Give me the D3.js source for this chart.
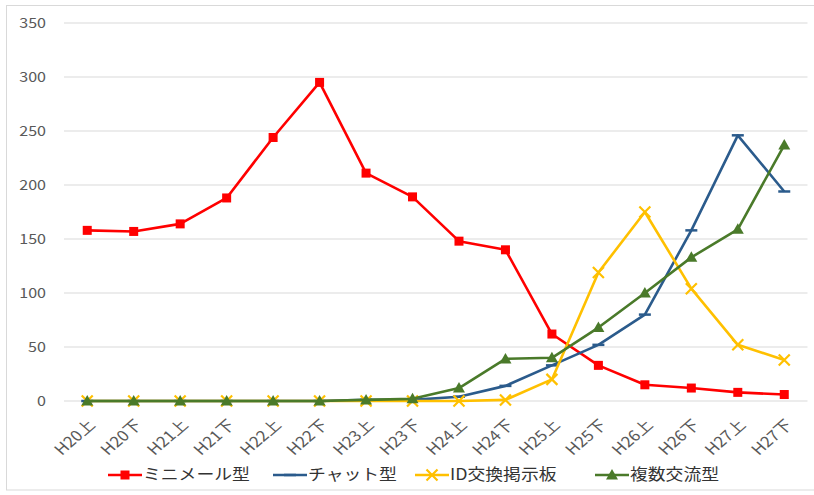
<!DOCTYPE html>
<html><head><meta charset="utf-8">
<script src="https://cdn.jsdelivr.net/npm/d3@7"></script>
<style>
body{margin:0;background:#fff;}
text{font-family:"Noto Sans CJK JP","Noto Sans",sans-serif;}
</style></head>
<body><svg id="c" width="814" height="495"></svg>
<script>
const categories = ["H20上","H20下","H21上","H21下","H22上","H22下","H23上","H23下","H24上","H24下","H25上","H25下","H26上","H26下","H27上","H27下"];
const seriesNames = ["ミニメール型","チャット型","ID交換掲示板","複数交流型"];
const miniMail = [158,157,164,188,244,295,211,189,148,140,62,33,15,12,8,6];
const chat = [0,0,0,0,0,0,1,1,4,14,33,52,80,158,246,194];
const idBoard = [0,0,0,0,0,0,0,0,0,1,20,119,175,104,52,38];
const multi = [0,0,0,0,0,0,1,2,12,39,40,68,100,133,159,237];
const yTicks = [0,50,100,150,200,250,300,350];
const colors = ["#FF0000","#2B5B8C","#FFC000","#4A7A2A"];

const sx = 1.15; // horizontal stretch of the original picture
const svg = d3.select("#c");
svg.append("rect").attr("x",6.5).attr("y",5.5).attr("width",820).attr("height",484.5)
  .attr("fill","none").attr("stroke","#d9d9d9");

const x = d3.scaleBand().domain(categories).range([64,807.5]);
const y = d3.scaleLinear().domain([0,350]).range([401,23]);
const cx = d => x(d) + x.bandwidth()/2;

// gridlines
svg.append("g").selectAll("line").data(yTicks).join("line")
  .attr("x1",64).attr("x2",807.5).attr("y1",d=>y(d)).attr("y2",d=>y(d))
  .attr("stroke","#d9d9d9").attr("stroke-width",1.2);

// y axis
const ya = svg.append("g").attr("transform","translate(46,0)")
  .call(d3.axisLeft(y).tickValues(yTicks).tickSize(0).tickPadding(0));
ya.select(".domain").remove();
ya.selectAll(".tick text").attr("font-size",14).attr("fill","#595959")
  .attr("font-family","'Noto Sans','Open Sans',sans-serif")
  .attr("transform",`scale(${sx},1)`);

// x axis labels
const xa = svg.append("g").attr("transform","translate(0,0)")
  .call(d3.axisBottom(x).tickSize(0).tickPadding(0));
xa.select(".domain").remove();
xa.selectAll(".tick").attr("transform",null);
xa.selectAll(".tick text").attr("font-size",15).attr("fill","#595959")
  .attr("text-anchor","end").attr("dy",0).attr("y",0)
  .attr("transform",d=>`translate(${cx(d)+9},426) scale(${sx},1) rotate(-45)`);

const data = [miniMail, chat, idBoard, multi];
const line = d3.line().x((d,i)=>cx(categories[i])).y(d=>y(d));

function marker(g, type, color){
  if(type===0) g.append("rect").attr("x",-4.5).attr("y",-4.5).attr("width",9).attr("height",9).attr("fill",color);
  else if(type===1) g.append("line").attr("x1",-6).attr("x2",6).attr("stroke",color).attr("stroke-width",2.5);
  else if(type===2) g.append("path").attr("d","M-5.5,-5.5L5.5,5.5M-5.5,5.5L5.5,-5.5").attr("stroke",color).attr("stroke-width",2.2).attr("fill","none");
  else g.append("path").attr("d","M0,-6L6,4.5L-6,4.5Z").attr("fill",color);
}

data.forEach((vals,si)=>{
  svg.append("path").datum(vals).attr("d",line).attr("fill","none")
    .attr("stroke",colors[si]).attr("stroke-width",2.6).attr("stroke-linejoin","round");
  vals.forEach((v,i)=>{
    const g = svg.append("g").attr("transform",`translate(${cx(categories[i])},${y(v)})`);
    marker(g, si, colors[si]);
  });
});

// legend
const legX = [108,273,415,595];
seriesNames.forEach((n,si)=>{
  const g = svg.append("g").attr("transform",`translate(${legX[si]},475)`);
  g.append("line").attr("x1",0).attr("x2",34).attr("stroke",colors[si]).attr("stroke-width",2.6);
  const m = g.append("g").attr("transform","translate(17,0)");
  marker(m, si, colors[si]);
  g.append("text").attr("transform",`translate(35,0) scale(${sx},1)`).attr("dy","0.35em").attr("font-size",15.5)
    .attr("fill","#333").text(n);
});
</script></body></html>
